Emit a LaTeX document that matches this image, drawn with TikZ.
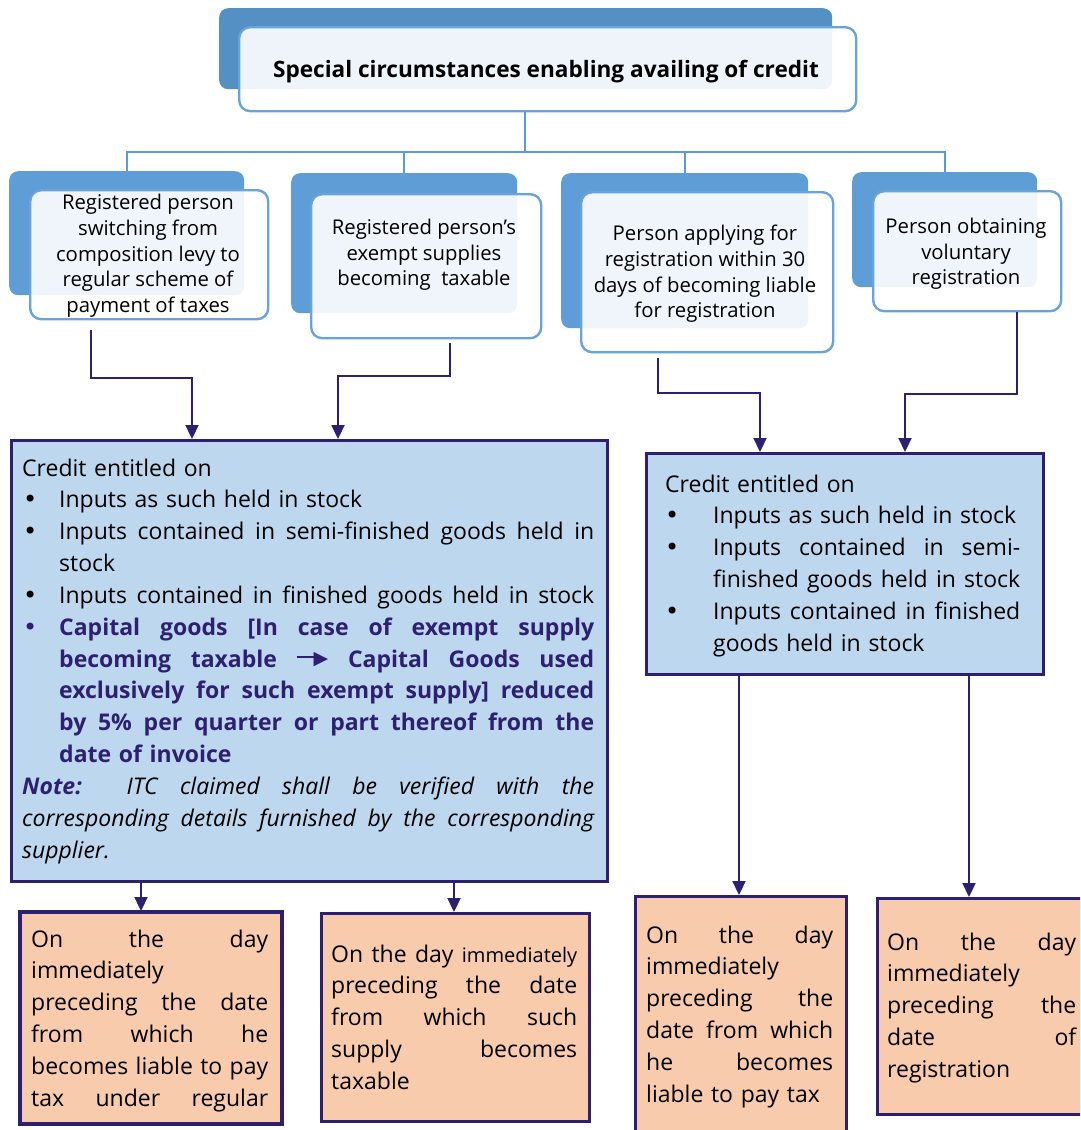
\documentclass[tikz,border=0pt]{standalone}
\usepackage{fontspec}
\setmainfont{Open Sans}
\newfontfamily\dejavu{DejaVu Sans}
\usetikzlibrary{arrows.meta}
\definecolor{navy}{HTML}{2E2070}
\definecolor{topblue}{HTML}{5590C5}
\definecolor{backblue}{HTML}{5E9DD6}
\definecolor{lineblue}{HTML}{5B9BD5}
\definecolor{frameblue}{HTML}{6AA3D9}
\definecolor{paleblue}{HTML}{BDD7EE}
\definecolor{peach}{HTML}{F8CBAD}
\newcommand\jl[2]{\makebox[#1][s]{\spaceskip=0.26em plus 1fil minus 0.06em\relax#2}}
\newcommand\bul[2]{\makebox[#1][l]{\hspace*{#2}{\dejavu\fontsize{24}{24}\selectfont •}}}
\newcommand\bigarrow{{\rule[9.5pt]{20pt}{1.6pt}\kern-3pt\raisebox{2.5pt}{\dejavu\fontsize{19}{19}\selectfont ▶}}}
\begin{document}
\begin{tikzpicture}[x=1pt,y=-1pt,
  back/.style={fill=backblue, rounded corners=9pt, draw=none, inner sep=0pt, anchor=north west},
  front/.style={draw=frameblue, line width=2.4pt, fill=white, fill opacity=0.9, rounded corners=11pt, inner sep=0pt, anchor=north west},
  ftext/.style={font=\fontsize{20.3}{25.7}\selectfont, align=center, inner sep=0pt},
  conn/.style={draw=lineblue, line width=2pt},
  arr/.style={draw=navy, line width=2.2pt, -{Triangle[length=14pt,width=13pt]}},
  infobox/.style={draw=navy, line width=2.5pt, fill=paleblue, inner sep=0pt, anchor=north west},
  datebox/.style={draw=navy, line width=2.5pt, fill=peach, inner sep=0pt, anchor=north west},
  body/.style={font=\fontsize{23}{31.85}\selectfont, inner sep=0pt, anchor=base west, align=left}
]
\useasboundingbox (0,0) rectangle (1080,1130);
\clip (0,0) rectangle (1080,1130);

% top box
\node[back, fill=topblue, minimum width=613, minimum height=81] (tb) at (219,8) {};
\node[front, minimum width=617, minimum height=84] (tf) at (238,26) {};
\node[font=\bfseries\fontsize{22.6}{26}\selectfont, inner sep=0pt, anchor=base] (tt) at (546,77) {Special circumstances enabling availing of credit};

% four circumstance boxes
\node[back, minimum width=235, minimum height=124] (b1b) at (9,171) {};
\node[front, minimum width=238, minimum height=129] (b1f) at (29,189) {};
\node[ftext] (t1) at (148,256) {Registered person\\switching from\\composition levy to\\regular scheme of\\payment of taxes};

\node[back, minimum width=226, minimum height=140] (b2b) at (291,173) {};
\node[front, minimum width=230, minimum height=144] (b2f) at (310,193) {};
\node[ftext] (t2) at (424,255) {Registered person's\\exempt supplies\\becoming\ \ taxable};

\node[back, minimum width=247, minimum height=155] (b3b) at (561,173) {};
\node[front, minimum width=252, minimum height=160] (b3f) at (580,191) {};
\node[ftext] (t3) at (705,274) {Person applying for\\registration within 30\\days of becoming liable\\for registration};

\node[back, minimum width=185, minimum height=115] (b4b) at (852,172) {};
\node[front, minimum width=188, minimum height=120] (b4f) at (872,190) {};
\node[ftext] (t4) at (966,254) {Person obtaining\\voluntary\\registration};

% tree connectors
\coordinate (hub) at (525,152);
\draw[conn] (tf.south -| hub) -- (hub);
\draw[conn] (b1b.north) |- (hub);
\draw[conn] (b2b.north) |- (hub);
\draw[conn] (b3b.north) |- (hub);
\draw[conn] (b4b.north) |- (hub);

% credit boxes
\node[infobox, minimum width=596, minimum height=441] (L) at (10,439) {};
\node[infobox, minimum width=397, minimum height=221] (R) at (645,452) {};

\node[body, text width=572pt] (Lt) at (22,476) {Credit entitled on\\
\bul{37pt}{1pt}Inputs as such held in stock\\
\bul{37pt}{1pt}\jl{535pt}{Inputs contained in semi-finished goods held in}\\
\hspace*{37pt}stock\\
\bul{37pt}{1pt}\jl{535pt}{Inputs contained in finished goods held in stock}\\
{\color{navy}\bul{37pt}{1pt}\bfseries\jl{535pt}{Capital goods [In case of exempt supply}}\\
{\color{navy}\bfseries\hspace*{37pt}\jl{535pt}{becoming taxable \bigarrow{} Capital Goods used}}\\
{\color{navy}\bfseries\hspace*{37pt}\jl{535pt}{exclusively for such exempt supply] reduced}}\\
{\color{navy}\bfseries\hspace*{37pt}\jl{535pt}{by 5\% per quarter or part thereof from the}}\\
{\color{navy}\bfseries\hspace*{37pt}date of invoice}\\
\jl{572pt}{{\color{navy}\bfseries\itshape Note:}\ \ \itshape ITC claimed shall be verified with the}\\
\jl{572pt}{\itshape corresponding details furnished by the corresponding}\\
{\itshape supplier.}};

\node[body, text width=355pt] (Rt) at (665,492) {Credit entitled on\\
\bul{48pt}{0pt}Inputs as such held in stock\\
\bul{48pt}{0pt}\jl{307pt}{Inputs contained in semi-}\\
\hspace*{48pt}\jl{307pt}{finished goods held in stock}\\
\bul{48pt}{0pt}\jl{307pt}{Inputs contained in finished}\\
\hspace*{48pt}goods held in stock};

% arrows into credit boxes
\coordinate (a1s) at (91,330);  \coordinate (a1m) at (192,378);
\coordinate (a2s) at (450,343); \coordinate (a2m) at (338,376);
\coordinate (a3s) at (658,358); \coordinate (a3m) at (760,393);
\coordinate (a4s) at (1017,312); \coordinate (a4m) at (905,394);
\draw[arr] (a1s) |- (a1m) -- (a1m |- L.north);
\draw[arr] (a2s) |- (a2m) -- (a2m |- L.north);
\draw[arr] (a3s) |- (a3m) -- (a3m |- R.north);
\draw[arr] (a4s) |- (a4m) -- (a4m |- R.north);

% date boxes
\node[datebox, minimum width=261, minimum height=211] (B1) at (19,911) {};
\node[datebox, minimum width=268, minimum height=208] (B2) at (320,912) {};
\node[datebox, minimum width=211, minimum height=260] (B3) at (634,895) {};
\node[datebox, minimum width=215, minimum height=216] (B4) at (876,897) {};

\begin{scope}
\clip (B1.north west) rectangle (B1.south east);
\node[body, text width=237pt] (B1t) at (31,947) {\jl{237pt}{On the day}\\
immediately\\
\jl{237pt}{preceding the date}\\
\jl{237pt}{from which he}\\
\jl{237pt}{becomes liable to pay}\\
\jl{237pt}{tax under regular}};
\end{scope}
\draw[navy, line width=2.5pt] (B1.north west) rectangle (B1.south east);

\node[body, text width=246pt] (B2t) at (331,962) {\jl{246pt}{On the day {\fontsize{20}{20}\selectfont immediately}}\\
\jl{246pt}{preceding the date}\\
\jl{246pt}{from which such}\\
\jl{246pt}{supply becomes}\\
taxable};

\node[body, text width=187pt] (B3t) at (646,943) {\jl{187pt}{On the day}\\
immediately\\
\jl{187pt}{preceding the}\\
\jl{187pt}{date from which}\\
\jl{187pt}{he becomes}\\
liable to pay tax};

\node[body, text width=189pt] (B4t) at (887,950) {\jl{189pt}{On the day}\\
immediately\\
\jl{189pt}{preceding the}\\
\jl{189pt}{date of}\\
registration};

% arrows into date boxes
\coordinate (c1) at (141,0); \coordinate (c2) at (454,0);
\coordinate (c3) at (739,0); \coordinate (c4) at (969,0);
\draw[arr] (c1 |- L.south) -- (c1 |- B1.north);
\draw[arr] (c2 |- L.south) -- (c2 |- B2.north);
\draw[arr] (c3 |- R.south) -- (c3 |- B3.north);
\draw[arr] (c4 |- R.south) -- (c4 |- B4.north);
\end{tikzpicture}
\end{document}
